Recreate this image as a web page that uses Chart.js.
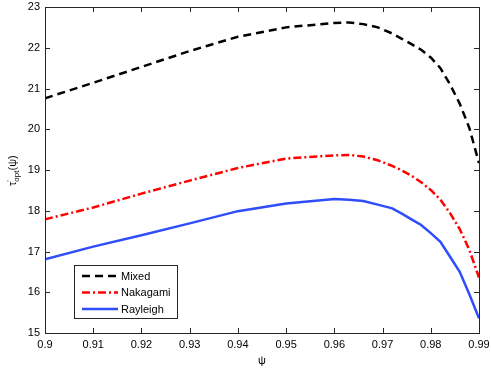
<!DOCTYPE html>
<html>
<head>
<meta charset="utf-8">
<script src="https://cdn.jsdelivr.net/npm/chart.js@4"></script>
<style>
  html, body { margin: 0; padding: 0; background: #fff; }
  #wrap { width: 491px; height: 368px; }
</style>
</head>
<body>
<div id="wrap"><canvas id="chart" width="491" height="368"></canvas></div>
<script>
// data
let psi = [0.9, 0.91, 0.92, 0.93, 0.94, 0.95, 0.96, 0.963, 0.966, 0.969, 0.972, 0.974, 0.976, 0.978, 0.98, 0.982, 0.984, 0.986, 0.988, 0.99]
let mixed = [20.76, 21.14, 21.53, 21.92, 22.27, 22.5, 22.61, 22.62, 22.58, 22.5, 22.35, 22.22, 22.09, 21.95, 21.76, 21.5, 21.1, 20.63, 20.03, 19.17]
let nakagami = [17.79, 18.08, 18.42, 18.74, 19.05, 19.28, 19.36, 19.37, 19.33, 19.24, 19.1, 18.99, 18.86, 18.7, 18.51, 18.27, 17.94, 17.55, 17.04, 16.36]
let rayleigh = [16.81, 17.12, 17.4, 17.69, 17.99, 18.18, 18.29, 18.27, 18.24, 18.15, 18.06, 17.93, 17.79, 17.65, 17.45, 17.24, 16.87, 16.5, 15.95, 15.36]
let xTicks = [0.9, 0.91, 0.92, 0.93, 0.94, 0.95, 0.96, 0.97, 0.98, 0.99]
let xTickLabels = ['0.9', '0.91', '0.92', '0.93', '0.94', '0.95', '0.96', '0.97', '0.98', '0.99']
let yTicks = [15, 16, 17, 18, 19, 20, 21, 22, 23]
let seriesNames = ['Mixed', 'Nakagami', 'Rayleigh']

let fontFam = '"Liberation Sans", Arial, Helvetica, sans-serif'
let axisColor = '#262626'

function toPoints(ys) {
    return psi.map((x, i) => ({ x: x, y: ys[i] }))
}

// box around the axes + ticks pointing inward on all four sides
const boxPlugin = {
    id: 'box',
    afterDatasetsDraw(chart) {
        let ctx = chart.ctx, a = chart.chartArea
        let xs = chart.scales.x, ys = chart.scales.y
        ctx.save()
        ctx.strokeStyle = axisColor
        ctx.lineWidth = 1
        ctx.beginPath()
        xs.ticks.forEach(t => {
            let px = Math.round(xs.getPixelForValue(t.value)) + 0.5
            ctx.moveTo(px, a.bottom); ctx.lineTo(px, a.bottom - 5)
            ctx.moveTo(px, a.top); ctx.lineTo(px, a.top + 5)
        })
        ys.ticks.forEach(t => {
            let py = Math.round(ys.getPixelForValue(t.value)) + 0.5
            ctx.moveTo(a.left, py); ctx.lineTo(a.left + 5, py)
            ctx.moveTo(a.right, py); ctx.lineTo(a.right - 5, py)
        })
        ctx.stroke()
        ctx.strokeRect(Math.round(a.left) + 0.5, Math.round(a.top) + 0.5,
            Math.round(a.right - a.left), Math.round(a.bottom - a.top))

        // y axis title: tau'_opt(psi), rotated
        ctx.fillStyle = '#000'
        ctx.translate(16, 186)
        ctx.rotate(-Math.PI / 2)
        ctx.textBaseline = 'alphabetic'
        ctx.textAlign = 'left'
        ctx.font = '11px ' + fontFam
        let x = 0
        ctx.fillText('\u03C4', x, 0); x += ctx.measureText('\u03C4').width
        ctx.font = '8px ' + fontFam
        ctx.fillText("'", x, -4)
        ctx.fillText('opt', x, 3); x += ctx.measureText('opt').width
        ctx.font = '11px ' + fontFam
        ctx.fillText('(\u03C8)', x, 0)
        ctx.restore()

        // x axis title
        ctx.save()
        ctx.fillStyle = '#000'
        ctx.font = '11px ' + fontFam
        ctx.textAlign = 'center'
        ctx.textBaseline = 'middle'
        ctx.fillText('\u03C8', (a.left + a.right) / 2, 361)
        ctx.restore()
    }
}

// legend box in the lower left of the plot
const legendPlugin = {
    id: 'boxLegend',
    afterDraw(chart) {
        let ctx = chart.ctx
        let bx = 74.5, by = 265.5, bw = 103, bh = 53
        ctx.save()
        ctx.fillStyle = '#fff'
        ctx.fillRect(bx, by, bw, bh)
        ctx.strokeStyle = axisColor
        ctx.lineWidth = 1
        ctx.strokeRect(bx, by, bw, bh)
        ctx.font = '11px ' + fontFam
        ctx.textBaseline = 'middle'
        chart.data.datasets.forEach((ds, i) => {
            let y = 276 + i * 16.5
            ctx.save()
            ctx.strokeStyle = ds.borderColor
            ctx.lineWidth = ds.borderWidth
            ctx.setLineDash(ds.borderDash || [])
            ctx.beginPath()
            ctx.moveTo(82, y); ctx.lineTo(118, y)
            ctx.stroke()
            ctx.restore()
            ctx.fillStyle = '#000'
            ctx.fillText(ds.label, 121, y + 0.5)
        })
        ctx.restore()
    }
}

let ctx = document.getElementById('chart').getContext('2d')
let chart = new Chart(ctx, {
    type: 'line',
    data: {
        datasets: [{
            label: seriesNames[0],
            data: toPoints(mixed),
            borderColor: '#000000',
            borderWidth: 2.5,
            borderDash: [8, 5]
        }, {
            label: seriesNames[1],
            data: toPoints(nakagami),
            borderColor: '#ff0000',
            borderWidth: 2.5,
            borderDash: [8, 3, 2, 3]
        }, {
            label: seriesNames[2],
            data: toPoints(rayleigh),
            borderColor: '#2f4dfb',
            borderWidth: 2.5
        }]
    },
    options: {
        responsive: false,
        animation: false,
        devicePixelRatio: 1,
        layout: { padding: { top: 7, right: 12, left: 0, bottom: 0 } },
        elements: {
            point: { radius: 0 },
            line: { tension: 0, fill: false, borderCapStyle: 'butt' }
        },
        scales: {
            x: {
                type: 'linear',
                min: 0.9,
                max: 0.99,
                afterBuildTicks: s => { s.ticks = xTicks.map(v => ({ value: v })) },
                afterFit: s => { s.height = 35; s.paddingLeft = 0; s.paddingRight = 0 },
                grid: { display: false, drawTicks: false },
                border: { display: false },
                ticks: {
                    padding: 5,
                    maxRotation: 0,
                    autoSkip: false,
                    color: '#000',
                    font: { family: fontFam, size: 11 },
                    callback: v => xTickLabels[xTicks.findIndex(t => Math.abs(t - v) < 1e-6)]
                }
            },
            y: {
                type: 'linear',
                min: 15,
                max: 23,
                afterBuildTicks: s => { s.ticks = yTicks.map(v => ({ value: v })) },
                afterFit: s => { s.width = 45; s.paddingTop = 0; s.paddingBottom = 0 },
                grid: { display: false, drawTicks: false },
                border: { display: false },
                ticks: {
                    padding: 5,
                    color: '#000',
                    font: { family: fontFam, size: 11 }
                }
            }
        },
        plugins: {
            legend: { display: false },
            tooltip: { enabled: false }
        }
    },
    plugins: [boxPlugin, legendPlugin]
})
</script>
</body>
</html>
